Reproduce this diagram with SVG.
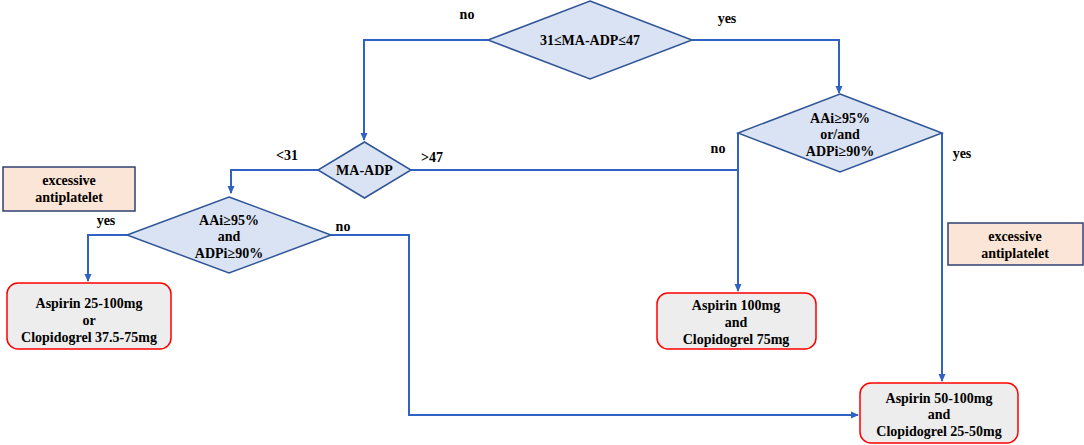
<svg xmlns="http://www.w3.org/2000/svg" width="1084" height="445" viewBox="0 0 1084 445">
<style>
text{font-family:"Liberation Serif","Times New Roman",serif;font-weight:bold;font-size:14px;fill:#000;text-anchor:middle}
.lbl{text-anchor:start}
.dia{fill:#dae3f3;stroke:#2f5597;stroke-width:1.5}
.box{fill:#ededed;stroke:#ff0000;stroke-width:1.5}
.note{fill:#fbe5d6;stroke:#2f3f70;stroke-width:1.5}
.con{fill:none;stroke:#2f62c4;stroke-width:2}
</style>
<defs>
<marker id="arr" markerWidth="8" markerHeight="8" refX="7" refY="4" orient="auto" markerUnits="userSpaceOnUse">
<path d="M0,0.5 L8,4 L0,7.5 Z" fill="#2f62c4"/>
</marker>
</defs>
<rect width="1084" height="445" fill="#fff"/>
<g id="connectors">
<path class="con" d="M488,40 H364 V140" marker-end="url(#arr)"/>
<path class="con" d="M692,40 H839 V93" marker-end="url(#arr)"/>
<path class="con" d="M318,170 H231 V193" marker-end="url(#arr)"/>
<path class="con" d="M411,170 H738"/>
<path class="con" d="M738,133 V291" marker-end="url(#arr)"/>
<path class="con" d="M942,133 V381" marker-end="url(#arr)"/>
<path class="con" d="M127,235 H88 V281" marker-end="url(#arr)"/>
<path class="con" d="M329,235 H409 V415 H858" marker-end="url(#arr)"/>
</g>
<g id="labels">
<text x="467" y="19">no</text>
<text x="727" y="23">yes</text>
<text x="718" y="153">no</text>
<text x="962" y="158">yes</text>
<text x="287" y="160">&lt;31</text>
<text x="432" y="162">&gt;47</text>
<text x="106" y="225">yes</text>
<text x="343" y="231">no</text>
</g>
<g id="d1">
<polygon class="dia" points="590,1 692,40 590,79 488,40"/>
<text x="590" y="45">31≤MA-ADP≤47</text>
</g>
<g id="d2">
<polygon class="dia" points="840,94 942,133 840,172 738,133"/>
<text x="840" y="123">AAi≥95%</text>
<text x="840" y="139">or/and</text>
<text x="840" y="156">ADPi≥90%</text>
</g>
<g id="d3">
<polygon class="dia" points="364.5,142 411,170 364.5,198 318,170"/>
<text x="364.5" y="175">MA-ADP</text>
</g>
<g id="d4">
<polygon class="dia" points="229,197 331,235 229,273 127,235"/>
<text x="229" y="225">AAi≥95%</text>
<text x="229" y="241">and</text>
<text x="229" y="258">ADPi≥90%</text>
</g>
<g id="note1">
<rect class="note" x="3" y="167" width="132" height="44"/>
<text x="69" y="185">excessive</text>
<text x="69" y="202">antiplatelet</text>
</g>
<g id="note2">
<rect class="note" x="948" y="223" width="135" height="42"/>
<text x="1015" y="241">excessive</text>
<text x="1015" y="258">antiplatelet</text>
</g>
<g id="b1">
<rect class="box" x="7" y="283" width="164" height="66" rx="11"/>
<text x="89" y="308">Aspirin 25-100mg</text>
<text x="89" y="325">or</text>
<text x="89" y="342">Clopidogrel 37.5-75mg</text>
</g>
<g id="b2">
<rect class="box" x="657" y="293" width="159" height="56" rx="11"/>
<text x="736" y="310">Aspirin 100mg</text>
<text x="736" y="327">and</text>
<text x="736" y="344">Clopidogrel 75mg</text>
</g>
<g id="b3">
<rect class="box" x="860" y="383" width="158" height="60" rx="11"/>
<text x="939" y="403">Aspirin 50-100mg</text>
<text x="939" y="419">and</text>
<text x="939" y="436">Clopidogrel 25-50mg</text>
</g>
</svg>
